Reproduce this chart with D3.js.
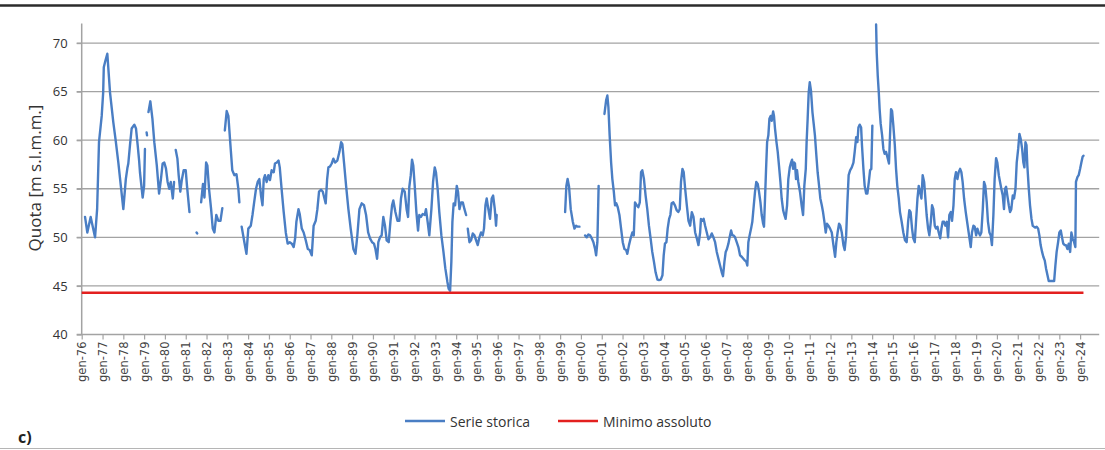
<!DOCTYPE html>
<html>
<head>
<meta charset="utf-8">
<script src="https://cdn.jsdelivr.net/npm/d3@7"></script>
<style>
  body { margin: 0; background: #fff; }
  svg { display: block; }
</style>
</head>
<body>
<svg id="chart" width="1105" height="450"></svg>
<script>
// Livello storico (anno decimale, quota m s.l.m.m.); null = interruzione della serie
const serie = [
  [1976.16,52.1],[1976.27,50.5],[1976.43,52.1],[1976.64,50.0],[1976.74,52.9],[1976.83,59.8],[1976.96,62.5],
  [1977.03,64.9],[1977.06,67.5],[1977.14,68.2],[1977.23,68.9],[1977.36,64.9],[1977.52,61.8],[1977.63,60.0],
  [1977.76,57.7],[1977.88,55.3],[1978.00,52.9],[1978.12,56.0],[1978.20,57.2],[1978.24,57.6],[1978.32,59.5],
  [1978.40,61.2],[1978.53,61.6],[1978.61,61.2],[1978.69,59.5],[1978.76,57.9],[1978.80,56.7],[1978.93,54.1],
  [1979.00,55.3],[1979.04,59.1],
  null,
  [1979.12,60.8],[1979.14,60.5],
  null,
  [1979.21,62.9],[1979.30,64.0],[1979.40,62.2],[1979.49,59.8],[1979.61,57.4],[1979.72,54.5],[1979.81,56.0],
  [1979.89,57.6],[1979.97,57.7],[1980.05,57.1],[1980.13,55.7],[1980.21,55.0],[1980.28,55.7],[1980.38,54.0],
  [1980.44,55.7],
  null,
  [1980.52,59.0],[1980.60,58.1],[1980.66,56.4],[1980.74,54.7],[1980.81,55.9],[1980.90,56.9],[1981.00,56.9],
  [1981.06,55.3],[1981.18,52.6],
  null,
  [1981.52,50.5],[1981.55,50.4],
  null,
  [1981.74,53.6],[1981.83,55.5],[1981.90,54.1],[1981.98,57.7],[1982.04,57.4],[1982.12,55.0],[1982.22,52.9],
  [1982.30,50.9],[1982.38,50.5],[1982.47,52.3],[1982.57,51.7],[1982.67,51.7],[1982.76,53.0],
  null,
  [1982.88,61.0],[1982.97,63.0],[1983.05,62.5],[1983.15,59.5],[1983.24,56.9],[1983.34,56.4],[1983.44,56.5],
  [1983.53,55.0],[1983.58,53.6],
  null,
  [1983.69,51.1],[1983.82,49.5],[1983.92,48.3],[1984.01,50.9],[1984.13,51.2],[1984.21,52.3],[1984.29,53.6],
  [1984.38,55.0],[1984.46,55.7],[1984.54,56.0],[1984.62,54.3],[1984.69,53.3],[1984.75,56.0],[1984.81,56.4],
  [1984.89,55.7],[1984.97,56.4],[1985.05,55.9],[1985.13,56.9],[1985.23,56.7],[1985.29,57.6],[1985.38,57.7],
  [1985.46,57.9],[1985.52,57.2],[1985.62,54.7],[1985.71,52.6],[1985.81,50.5],[1985.90,49.35],[1986.00,49.5],
  [1986.10,49.35],[1986.19,49.0],[1986.26,49.9],[1986.32,51.6],[1986.42,52.9],[1986.48,52.4],[1986.58,50.9],
  [1986.67,50.5],[1986.77,49.7],[1986.87,48.8],[1986.96,48.7],[1987.06,48.15],[1987.15,51.2],[1987.25,51.7],
  [1987.33,52.9],[1987.41,54.7],[1987.51,54.9],[1987.59,54.7],[1987.67,54.0],[1987.73,53.5],[1987.80,56.0],
  [1987.86,57.2],[1987.94,57.3],[1988.02,57.6],[1988.10,58.1],[1988.18,57.7],[1988.29,57.9],[1988.39,58.8],
  [1988.47,59.8],[1988.53,59.6],[1988.61,57.7],[1988.71,55.3],[1988.82,52.9],[1988.93,50.9],[1989.06,48.8],
  [1989.16,48.3],[1989.25,50.2],[1989.35,52.9],[1989.46,53.5],[1989.57,53.3],[1989.67,52.3],[1989.77,50.5],
  [1989.86,49.9],[1989.96,49.5],[1990.05,49.35],[1990.12,48.8],[1990.20,47.8],[1990.26,49.5],[1990.34,50.0],
  [1990.42,50.2],[1990.50,52.1],[1990.58,51.2],[1990.66,49.7],[1990.76,49.5],[1990.84,51.6],[1990.92,53.3],
  [1990.98,53.8],[1991.08,52.6],[1991.18,51.7],[1991.27,51.7],[1991.35,54.0],[1991.43,55.0],[1991.53,54.7],
  [1991.62,52.9],[1991.69,52.1],[1991.75,55.2],[1991.82,56.4],[1991.88,58.0],[1991.94,57.4],[1992.01,55.3],
  [1992.09,52.6],[1992.17,50.7],[1992.23,52.3],[1992.31,52.1],[1992.39,52.4],[1992.49,52.3],[1992.55,52.9],
  [1992.63,51.6],[1992.71,50.2],[1992.81,52.9],[1992.89,55.7],[1992.97,57.2],[1993.03,56.7],[1993.11,55.0],
  [1993.19,52.6],[1993.29,50.2],[1993.39,48.5],[1993.48,46.8],[1993.58,45.4],[1993.64,44.7],[1993.71,44.5],
  [1993.77,47.5],[1993.82,51.6],[1993.88,53.5],[1993.95,53.3],[1994.03,55.3],[1994.09,54.7],[1994.16,52.9],
  [1994.24,53.6],[1994.32,53.6],[1994.40,52.9],[1994.48,52.3],
  null,
  [1994.56,50.9],[1994.64,49.5],[1994.72,49.7],[1994.80,50.4],[1994.88,50.2],[1994.96,49.7],[1995.04,49.2],
  [1995.12,50.0],[1995.20,50.5],[1995.28,50.2],[1995.34,50.9],[1995.41,53.3],[1995.47,54.0],[1995.55,52.9],
  [1995.63,51.9],[1995.71,54.0],[1995.78,54.3],[1995.86,52.9],[1995.92,51.2],[1995.95,52.3],
  null,
  [1999.24,52.6],[1999.30,55.3],[1999.36,56.0],[1999.43,55.2],[1999.51,52.9],[1999.61,51.6],[1999.69,50.9],
  [1999.77,51.2],[1999.83,51.1],[1999.93,51.1],
  null,
  [2000.20,50.2],[2000.28,50.0],[2000.36,50.3],[2000.44,50.2],[2000.52,49.9],[2000.60,49.5],[2000.68,48.8],
  [2000.73,48.15],[2000.79,49.5],[2000.85,55.3],
  null,
  [2001.13,62.7],[2001.21,64.1],[2001.27,64.6],[2001.32,63.4],[2001.38,60.5],[2001.45,57.7],[2001.51,56.0],
  [2001.58,54.7],[2001.64,53.3],[2001.70,53.5],[2001.77,53.1],[2001.85,52.3],[2001.93,50.9],[2002.01,49.5],
  [2002.09,48.8],[2002.17,48.7],[2002.23,48.3],[2002.31,49.2],[2002.39,49.9],[2002.47,50.5],[2002.54,50.2],
  [2002.60,53.6],[2002.68,53.3],[2002.76,53.1],[2002.83,53.6],[2002.89,56.7],[2002.95,56.9],[2003.03,56.0],
  [2003.11,54.3],[2003.19,52.9],[2003.27,51.2],[2003.35,49.9],[2003.43,48.5],[2003.51,47.5],[2003.59,46.4],
  [2003.68,45.65],[2003.75,45.6],[2003.84,45.65],[2003.92,46.1],[2003.98,48.15],[2004.04,49.35],[2004.11,49.5],
  [2004.17,50.9],[2004.24,51.9],[2004.30,52.3],[2004.36,53.5],[2004.44,53.6],[2004.52,53.3],[2004.60,52.8],
  [2004.68,52.6],[2004.75,52.9],[2004.81,55.7],[2004.88,57.05],[2004.94,56.7],[2005.01,55.0],[2005.09,53.3],
  [2005.17,51.7],[2005.25,51.2],[2005.33,52.6],[2005.41,52.1],[2005.49,50.5],[2005.57,49.9],[2005.65,49.2],
  [2005.73,50.5],[2005.77,51.9],[2005.84,51.7],[2005.90,51.9],[2005.97,51.2],[2006.05,50.5],[2006.13,49.8],
  [2006.21,50.0],[2006.29,50.4],[2006.37,50.0],[2006.45,49.5],[2006.53,48.5],[2006.61,47.8],[2006.69,47.1],
  [2006.77,46.4],[2006.83,46.0],[2006.90,47.5],[2006.96,48.5],[2007.02,48.8],[2007.09,49.35],[2007.15,50.0],
  [2007.22,50.7],[2007.28,50.2],[2007.34,50.2],[2007.41,50.0],[2007.49,49.5],[2007.57,49.0],[2007.65,48.15],
  [2007.73,48.0],[2007.81,47.8],[2007.89,47.6],[2007.95,47.5],[2008.00,47.1],[2008.05,49.5],[2008.11,50.2],
  [2008.18,50.9],[2008.24,51.6],[2008.31,53.3],[2008.37,54.7],[2008.43,55.7],[2008.50,55.5],[2008.56,54.7],
  [2008.63,53.6],[2008.69,52.3],[2008.76,51.4],[2008.80,51.1],[2008.85,54.0],[2008.90,57.05],[2008.95,59.8],
  [2009.01,60.5],[2009.06,62.2],[2009.12,62.5],[2009.17,62.0],[2009.24,62.95],[2009.28,62.5],[2009.33,61.2],
  [2009.40,59.8],[2009.46,58.8],[2009.52,57.4],[2009.59,55.7],[2009.65,54.0],[2009.72,52.8],[2009.78,52.3],
  [2009.84,51.9],[2009.91,53.3],[2009.97,56.0],[2010.04,57.2],[2010.10,57.7],[2010.15,58.0],[2010.20,57.05],
  [2010.25,57.7],[2010.29,57.6],[2010.34,56.0],[2010.39,56.9],[2010.45,55.7],[2010.53,54.7],[2010.61,53.3],
  [2010.68,52.3],[2010.74,55.3],[2010.81,57.05],[2010.85,59.8],[2010.90,62.2],[2010.95,64.9],[2011.00,65.96],
  [2011.06,65.1],[2011.13,62.9],[2011.19,61.7],[2011.25,60.5],[2011.32,58.4],[2011.38,56.7],[2011.45,55.3],
  [2011.51,54.0],[2011.58,53.3],[2011.64,52.6],[2011.70,51.7],[2011.77,50.5],[2011.83,51.4],[2011.90,51.2],
  [2011.98,50.9],[2012.06,50.5],[2012.14,49.2],[2012.22,48.0],[2012.28,49.5],[2012.34,50.5],[2012.41,51.4],
  [2012.47,51.2],[2012.54,50.5],[2012.62,49.2],[2012.68,48.7],[2012.75,50.2],[2012.81,53.6],[2012.87,56.4],
  [2012.94,56.9],[2013.02,57.2],[2013.10,57.7],[2013.16,58.8],[2013.23,60.3],[2013.29,59.8],[2013.34,61.3],
  [2013.40,61.6],[2013.47,61.3],[2013.51,59.5],[2013.58,57.05],[2013.64,55.3],[2013.71,54.5],[2013.77,54.5],
  [2013.84,55.7],[2013.90,56.9],[2013.96,57.05],[2014.01,61.5],
  null,
  [2014.19,71.9],[2014.22,69.0],[2014.27,66.6],[2014.32,64.9],[2014.36,63.2],[2014.41,61.7],[2014.48,60.5],
  [2014.54,59.1],[2014.60,58.6],[2014.67,58.8],[2014.73,58.3],[2014.81,57.6],[2014.86,60.5],[2014.91,63.2],
  [2014.96,63.0],[2015.02,61.5],[2015.09,59.5],[2015.15,57.05],[2015.21,55.3],[2015.28,54.0],[2015.34,52.6],
  [2015.42,51.6],[2015.50,50.5],[2015.58,49.7],[2015.66,49.5],[2015.73,51.6],[2015.79,52.8],[2015.85,52.6],
  [2015.92,50.9],[2015.98,49.9],[2016.05,49.5],[2016.11,51.6],[2016.18,54.0],[2016.24,55.3],[2016.30,54.7],
  [2016.37,54.0],[2016.43,56.4],[2016.50,55.7],[2016.56,54.0],[2016.62,52.3],[2016.69,50.9],[2016.75,50.2],
  [2016.82,51.6],[2016.88,53.3],[2016.94,52.9],[2017.01,51.2],[2017.07,50.9],[2017.14,51.1],[2017.20,50.5],
  [2017.27,49.9],[2017.33,50.9],[2017.39,51.6],[2017.46,51.6],[2017.52,51.2],[2017.59,51.6],[2017.65,50.0],
  [2017.71,52.3],[2017.78,52.6],[2017.84,51.7],[2017.91,53.3],[2017.97,56.0],[2018.03,56.7],[2018.10,56.0],
  [2018.16,56.7],[2018.23,57.05],[2018.29,56.7],[2018.35,55.7],[2018.42,54.0],[2018.50,52.6],[2018.58,51.4],
  [2018.66,50.2],[2018.74,49.0],[2018.80,50.5],[2018.87,51.2],[2018.93,51.1],[2019.00,50.2],[2019.06,50.9],
  [2019.12,50.5],[2019.19,50.2],[2019.25,50.5],[2019.32,52.9],[2019.38,55.7],[2019.44,55.3],[2019.51,53.6],
  [2019.57,51.6],[2019.64,50.5],[2019.70,50.2],[2019.76,49.2],[2019.83,52.3],[2019.89,56.0],[2019.96,58.15],
  [2020.02,57.7],[2020.09,56.4],[2020.15,55.7],[2020.21,55.0],[2020.28,54.3],[2020.34,52.9],[2020.39,55.0],
  [2020.44,55.2],[2020.50,54.3],[2020.57,53.3],[2020.63,52.6],[2020.69,52.9],[2020.76,54.3],[2020.82,54.0],
  [2020.89,55.0],[2020.95,57.7],[2021.02,59.1],[2021.08,60.65],[2021.14,60.15],[2021.21,59.1],[2021.27,57.7],
  [2021.32,57.2],[2021.37,59.8],[2021.42,59.5],[2021.46,57.4],[2021.53,55.0],[2021.59,53.3],[2021.66,51.9],
  [2021.72,51.2],[2021.78,51.1],[2021.85,51.0],[2021.91,51.1],[2021.98,50.9],[2022.04,50.2],[2022.10,49.2],
  [2022.17,48.5],[2022.23,48.0],[2022.30,47.6],[2022.36,46.8],[2022.43,46.1],[2022.49,45.5],[2022.65,45.5],
  [2022.75,45.5],[2022.81,47.1],[2022.87,48.5],[2022.94,49.5],[2023.00,50.5],[2023.07,50.7],[2023.13,50.0],
  [2023.19,49.35],[2023.26,49.2],[2023.32,49.2],[2023.39,48.8],[2023.45,49.35],[2023.52,48.5],[2023.58,50.5],
  [2023.64,49.9],[2023.71,49.5],[2023.77,49.0],[2023.80,55.7],[2023.87,56.2],[2023.93,56.4],[2024.00,57.05],
  [2024.06,57.7],[2024.12,58.3],[2024.16,58.4]
];

// Minimo assoluto registrato e periodo in cui è riportato
const minimoAssoluto = 44.3;
const periodoMinimo = [1976.0, 2024.16];

// Assi
const yTicks = [40, 45, 50, 55, 60, 65, 70];
const yDominio = [40, 72];
const xDominio = [new Date(1976, 0, 1), new Date(2024, 11, 1)];
const etichettaY = "Quota [m s.l.m.m.]";
const voci = ["Serie storica", "Minimo assoluto"];
const colori = ["#4a7ec4", "#e3201f"];

// anno decimale -> Date
function daAnno(a) {
  const y = Math.floor(a);
  const inizio = new Date(y, 0, 1), fine = new Date(y + 1, 0, 1);
  return new Date(+inizio + (a - y) * (fine - inizio));
}

const svg = d3.select("#chart");
const plot = { left: 81.7, right: 1099.2, top: 23.6, bottom: 334.5 };

const x = d3.scaleTime().domain(xDominio).range([plot.left, plot.right]);
const y = d3.scaleLinear().domain(yDominio).range([plot.bottom, plot.top]);

// cornice superiore e inferiore
svg.append("line").attr("x1", 0).attr("x2", 1105).attr("y1", 5.5).attr("y2", 5.5)
  .attr("stroke", "#2b2b2b").attr("stroke-width", 2.5);
svg.append("line").attr("x1", 0).attr("x2", 1105).attr("y1", 448.5).attr("y2", 448.5)
  .attr("stroke", "#b5b5b5").attr("stroke-width", 1);

// griglia orizzontale (con tacche a sinistra dell'asse)
svg.append("g").selectAll("line").data(yTicks.filter(v => v > 40)).join("line")
  .attr("x1", plot.left - 5).attr("x2", plot.right)
  .attr("y1", d => y(d)).attr("y2", d => y(d))
  .attr("stroke", "#a3a3a3").attr("stroke-width", 1.3);

// asse Y
const gy = svg.append("g").attr("transform", `translate(${plot.left},0)`)
  .call(d3.axisLeft(y).tickValues(yTicks).tickSize(5).tickPadding(9));
gy.select(".domain").attr("d", `M0,${plot.top}V${plot.bottom}`).attr("stroke", "#a3a3a3").attr("stroke-width", 1.5);
gy.selectAll(".tick line").attr("stroke", "#a3a3a3").attr("stroke-width", 1.3);
gy.selectAll(".tick text").attr("font-family", "Open Sans, sans-serif").attr("font-size", 13)
  .attr("fill", "#333");

// asse X
const fmtAnno = d3.timeFormat("%y");
const gx = svg.append("g").attr("transform", `translate(0,${plot.bottom})`)
  .call(d3.axisBottom(x).ticks(d3.timeYear.every(1)).tickSize(5)
    .tickFormat(d => "gen-" + fmtAnno(d)));
gx.select(".domain").attr("d", `M${plot.left - 5},0H${plot.right}`).attr("stroke", "#a3a3a3").attr("stroke-width", 1.5);
gx.selectAll(".tick line").attr("stroke", "#a3a3a3").attr("stroke-width", 1.2);
gx.selectAll(".tick text")
  .attr("font-family", "DejaVu Sans, sans-serif").attr("font-size", 11.5).attr("fill", "#444")
  .attr("text-anchor", "end").attr("dy", null).attr("y", 0)
  .attr("transform", "translate(0,7) rotate(-90)")
  .attr("dominant-baseline", "central");

// etichetta asse Y
svg.append("text").attr("transform", "translate(34,178) rotate(-90)")
  .attr("text-anchor", "middle").attr("dominant-baseline", "central")
  .attr("font-family", "Open Sans, sans-serif").attr("font-size", 17).attr("fill", "#333")
  .text(etichettaY);

// serie storica
const linea = d3.line()
  .defined(d => d !== null)
  .x(d => x(daAnno(d[0])))
  .y(d => y(d[1]));

svg.append("path").datum(serie)
  .attr("d", linea).attr("fill", "none")
  .attr("stroke", colori[0]).attr("stroke-width", 2.4)
  .attr("stroke-linejoin", "round").attr("stroke-linecap", "round");

// minimo assoluto
svg.append("path").datum(periodoMinimo.map(a => [a, minimoAssoluto]))
  .attr("d", linea).attr("fill", "none")
  .attr("stroke", colori[1]).attr("stroke-width", 2.5);

// legenda
const leg = svg.append("g").attr("font-family", "Open Sans, sans-serif").attr("font-size", 14).attr("fill", "#333");
const posLeg = [{ x: 405, t: 450 }, { x: 558, t: 603 }];
voci.forEach((v, i) => {
  leg.append("line").attr("x1", posLeg[i].x).attr("x2", posLeg[i].x + 40)
    .attr("y1", 421).attr("y2", 421).attr("stroke", colori[i]).attr("stroke-width", 2.5);
  leg.append("text").attr("x", posLeg[i].t).attr("y", 421).attr("dominant-baseline", "central").text(v);
});

// lettera del pannello
svg.append("text").attr("x", 18).attr("y", 443)
  .attr("font-family", "Open Sans, sans-serif").attr("font-size", 16).attr("font-weight", "bold")
  .attr("fill", "#222").text("c)");
</script>
</body>
</html>
